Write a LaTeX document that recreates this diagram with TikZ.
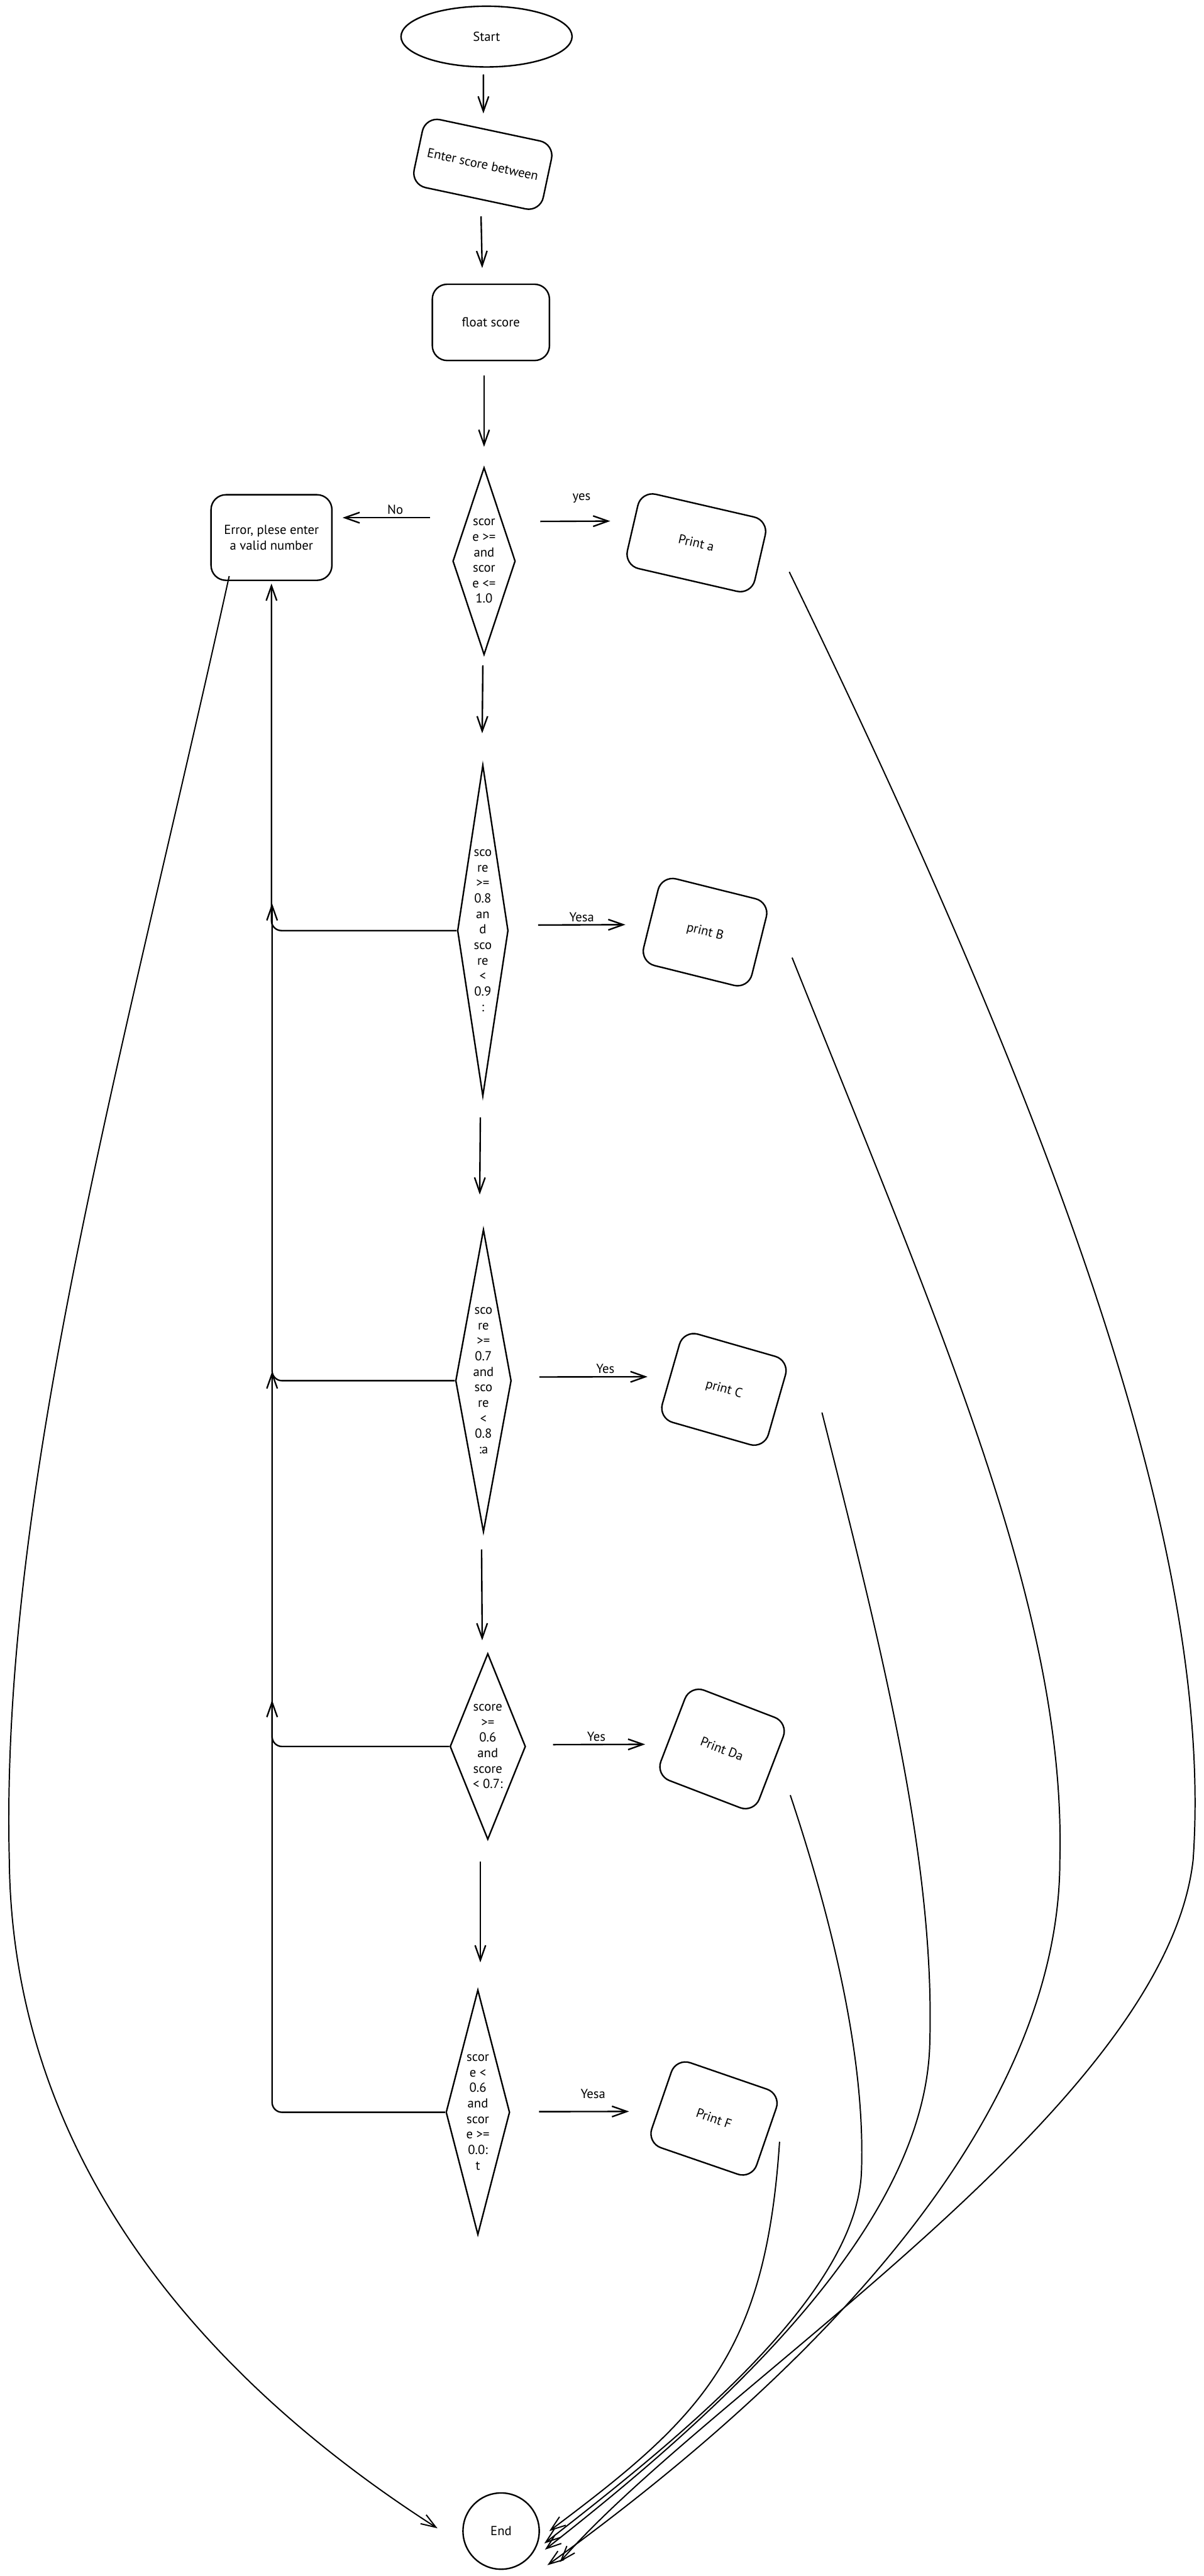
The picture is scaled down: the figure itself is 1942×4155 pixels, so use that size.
\documentclass[tikz,border=0pt]{standalone}
\usepackage{fontspec}
\setmainfont{PT Sans}
\usetikzlibrary{arrows.meta, shapes.geometric}

\begin{document}
\begin{tikzpicture}[
x=0.5pt, y=-0.5pt,
font=\fontsize{10.5}{12.5}\selectfont,
box/.style={draw, rectangle, rounded corners=12pt, align=center, line width=1.2pt, inner sep=2pt},
decision/.style={draw, diamond, align=center, line width=1.2pt, inner sep=0pt},
terminal/.style={draw, ellipse, line width=1.2pt},
arrow/.style={-{Straight Barb[length=12pt, width=8.5pt]}, line width=1.2pt},
flow/.style={-{Straight Barb[length=12pt, width=8.5pt]}, line width=1pt},
lbl/.style={inner sep=0pt, above=2pt}
]

\useasboundingbox (0,0) rectangle (1942,4155);
\fill[white] (0,0) rectangle (1942,4155);

\node[terminal, minimum width=138pt, minimum height=49pt] (start) at (785,59)
{Start};

\node[box, minimum width=106.5pt, minimum height=56pt, rotate=-12] (enter) at (779,265)
{Enter score between};

\node[box, minimum width=94.5pt, minimum height=61.5pt] (float) at (792,520)
{float score};

\node[decision, minimum width=50.5pt, minimum height=151pt, aspect=0.33] (range) at (781,905)
{scor\\e >=\\and\\scor\\e <=\\1.0};

\node[box, minimum width=97.5pt, minimum height=69pt] (error) at (438,867)
{Error, plese enter\\a valid number};

\node[box, minimum width=105.5pt, minimum height=61.5pt, rotate=-13] (printA) at (1123.5,875.5)
{Print a};

\node[decision, minimum width=41pt, minimum height=267pt, aspect=0.154] (isB) at (779,1501)
{sco\\re\\>=\\0.8\\an\\d\\sco\\re\\<\\0.9\\:};

\node[box, minimum width=90pt, minimum height=72pt, rotate=-14] (printB) at (1137.5,1503.5)
{print B};

\node[decision, minimum width=45pt, minimum height=244pt, aspect=0.184] (isC) at (780,2227)
{sco\\re\\>=\\0.7\\and\\sco\\re\\<\\0.8\\:a};

\node[box, minimum width=89pt, minimum height=74pt, rotate=-16] (printC) at (1168,2241)
{print C};

\node[decision, minimum width=61pt, minimum height=150pt, aspect=0.407] (isD) at (787,2817)
{score\\>=\\0.6\\and\\score\\< 0.7:};

\node[box, minimum width=85pt, minimum height=78pt, rotate=-21] (printD) at (1165,2821)
{Print Da};

\node[decision, minimum width=51.5pt, minimum height=197.5pt, aspect=0.26] (isF) at (771,3407)
{scor\\e <\\0.6\\and\\scor\\e >=\\0.0:\\t};

\node[box, minimum width=89.5pt, minimum height=72.5pt, rotate=-19] (printF) at (1152,3417)
{Print F};

\node[terminal, minimum width=61.5pt, minimum height=61.5pt] (finish) at (808.5,4082.5)
{End};

\coordinate (loopC) at (439,1457);
\coordinate (loopD) at (439,2212);
\coordinate (loopF) at (439,2742);

\draw[arrow] ([shift={(-5,11)}]start.south) -- ([shift={(-11,-26)}]enter.north);
\draw[arrow] ([shift={(9,28)}]enter.south) -- ([shift={(-14,-25)}]float.north);
\draw[arrow] ([shift={(-11,23)}]float.south) -- ([shift={(0,-32)}]range.north);
\draw[arrow] ([shift={(-2,16)}]range.south) -- ([shift={(-1,-50)}]isB.north);
\draw[arrow] ([shift={(-4,33)}]isB.south) -- ([shift={(-6,-55)}]isC.north);
\draw[arrow] ([shift={(-3,27)}]isC.south) -- ([shift={(-9,-20)}]isD.north);
\draw[arrow] ([shift={(-12,34)}]isD.south) -- ([shift={(4,-43)}]isF.north);

\draw[arrow] ([shift={(-35,-70)}]range.west) -- node[lbl, pos=0.4] {No} ([shift={(16,-32)}]error.east);
\draw[arrow] ([shift={(39,-64)}]range.east) -- node[lbl, pos=0.59, above=12pt] {yes} ([shift={(-35,-11)}]printA.west);
\draw[arrow] ([shift={(47,-9)}]isB.east) -- node[lbl] {Yesa} ([shift={(-40,10)}]printB.west);
\draw[arrow] ([shift={(44,-6)}]isC.east) -- node[lbl, pos=0.61] {Yes} ([shift={(-36.5,4.5)}]printC.west);
\draw[arrow] ([shift={(43,-3)}]isD.east) -- node[lbl, pos=0.47] {Yes} ([shift={(-43.6,23.4)}]printD.west);
\draw[arrow] ([shift={(46,-1)}]isF.east) -- node[lbl, pos=0.6, above=8pt] {Yesa} ([shift={(-51.3,18.2)}]printF.west);

\draw[arrow, rounded corners=8pt] (isB.west) -| ([shift={(0,4)}]error.south);
\draw[arrow, rounded corners=8pt] (isC.west) -| (loopC);
\draw[arrow, rounded corners=8pt] (isD.west) -| (loopD);
\draw[arrow, rounded corners=8pt] (isF.west) -| (loopF);

\draw[flow] ([shift={(46,23)}]printA.east) .. controls (1700,1800) and (1960,2500) .. (1925,3000)
  .. controls (1880,3400) and (1150,3850) .. ([shift={(32,50)}]finish.east);
\draw[flow] ([shift={(52,19)}]printB.east) .. controls (1520,2150) and (1720,2600) .. (1710,3000)
  .. controls (1710,3400) and (1350,3800) .. ([shift={(12,55)}]finish.east);
\draw[flow] ([shift={(71.5,12.5)}]printC.east) .. controls (1420,2650) and (1510,3000) .. (1500,3300)
  .. controls (1490,3600) and (1150,3900) .. ([shift={(8,30)}]finish.east);
\draw[flow] ([shift={(29.6,43.6)}]printD.east) .. controls (1360,3150) and (1395,3350) .. (1390,3500)
  .. controls (1385,3700) and (1100,3930) .. ([shift={(7,20)}]finish.east);
\draw[flow] ([shift={(20,8)}]printF.east) .. controls (1235,3800) and (1130,3900) .. ([shift={(15,0)}]finish.east);
\draw[flow] ([shift={(30.5,-8)}]error.south west) .. controls (200,1700) and (0,2400) .. (15,3000)
  .. controls (20,3500) and (350,3850) .. ([shift={(-40,-4.5)}]finish.west);

\end{tikzpicture}
\end{document}
